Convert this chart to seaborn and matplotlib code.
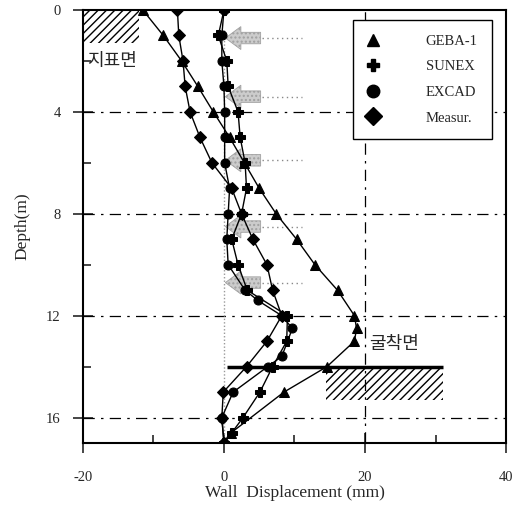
import numpy as np
import pandas as pd
import seaborn as sns
import matplotlib
matplotlib.use("Agg")
import matplotlib.pyplot as plt
from matplotlib.patches import Rectangle, FancyArrow
from matplotlib.lines import Line2D

# Wall displacement profiles (mm) against depth (m)
geba_depth = [0, 1, 2, 3, 4, 5, 6, 7, 8, 9, 10, 11, 12, 12.5, 13, 14, 15, 16.6, 17]
geba_disp = [-11.5, -8.6, -6.0, -3.7, -1.5, 0.8, 2.9, 5.0, 7.4, 10.3, 12.9, 16.1, 18.5, 18.8, 18.5, 14.6, 8.5, 1.0, 0.0]

sunex_depth = [0, 1, 2, 3, 4, 5, 6, 7, 8, 9, 10, 11, 12, 13, 14, 15, 16, 16.6, 17]
sunex_disp = [0.0, -0.8, 0.4, 0.6, 2.0, 2.3, 3.0, 3.2, 2.5, 1.1, 2.0, 3.3, 9.0, 8.9, 6.9, 5.1, 2.7, 1.1, 0.0]

excad_depth = [0, 1, 2, 3, 4, 5, 6, 7, 8, 9, 10, 11, 11.4, 12, 12.5, 13.6, 14, 15, 16, 17]
excad_disp = [0.0, -0.3, -0.3, 0.0, 0.1, 0.1, 0.1, 0.8, 0.6, 0.4, 0.6, 3.0, 4.8, 8.2, 9.7, 8.2, 6.2, 1.3, -0.3, 0.0]

meas_depth = [0, 1, 2, 3, 4, 5, 6, 7, 8, 9, 10, 11, 12, 13, 14, 15, 16, 17]
meas_disp = [-6.6, -6.4, -5.8, -5.5, -4.8, -3.4, -1.7, 1.1, 2.5, 4.1, 6.1, 6.9, 8.2, 6.1, 3.2, -0.1, -0.3, 0.0]

series_names = ["GEBA-1", "SUNEX", "EXCAD", "Measur."]
series_markers = ["^", "P", "o", "D"]
series_sizes = [6.5, 7, 6.5, 6.3]

# Inclinometer movement arrows (depths, m)
arrow_depths = [1.1, 3.4, 5.9, 8.5, 10.7]

x_ticks = [-20, 0, 20, 40]
y_ticks = [0, 4, 8, 12, 16]

sns.set_theme(style="white")
plt.rcParams["font.family"] = ["Liberation Serif", "Noto Sans CJK KR"]
plt.rcParams["axes.unicode_minus"] = False

fig = plt.figure(figsize=(5.18, 5.14), dpi=100)
ax = fig.add_axes([0.160, 0.138, 0.817, 0.8425])

frames = []
for name, d, x in [("GEBA-1", geba_depth, geba_disp), ("SUNEX", sunex_depth, sunex_disp),
                   ("EXCAD", excad_depth, excad_disp), ("Measur.", meas_depth, meas_disp)]:
    frames.append(pd.DataFrame({"disp": x, "depth": d, "model": name}))
df = pd.concat(frames, ignore_index=True)

# reference lines
dashdot = (0, (9, 5, 2, 5))
for yv in [4, 8, 12, 16]:
    ax.axhline(yv, color="black", lw=0.9, ls=dashdot, zorder=1)
ax.axvline(20, color="black", lw=0.9, ls=dashdot, zorder=1)
ax.plot([0, 0], [0.8, 17], color="#999999", lw=1.0, ls=(0, (1, 1.5)), zorder=1)

# gray stippled arrows with dotted tails
for yd in arrow_depths:
    ax.add_patch(FancyArrow(5.2, yd, -5.0, 0, width=0.45, head_width=0.9,
                            head_length=2.2, length_includes_head=True,
                            facecolor="#cccccc", edgecolor="#a0a0a0", lw=0.6,
                            hatch="....", zorder=2))
    ax.plot([5.4, 11], [yd, yd], color="#888888", lw=1.0, ls=(0, (1, 2.5)), zorder=2)

for name, mk, ms in zip(series_names, series_markers, series_sizes):
    sub = df[df["model"] == name]
    sns.lineplot(data=sub, x="disp", y="depth", sort=False, estimator=None,
                 ax=ax, color="black", lw=1.0, marker=mk, markersize=ms,
                 markeredgecolor="black", markerfacecolor="black", zorder=4,
                 legend=False)

# ground surface and excavation level
ax.add_patch(Rectangle((-20, 0), 8, 1.3, fill=False, hatch="////", lw=0,
                       edgecolor="black", zorder=3))
ax.text(-19.4, 2.0, "지표면", fontsize=13, va="center", ha="left",
        family=["Noto Sans CJK KR"])
ax.plot([0.5, 31], [14, 14], color="black", lw=2.5, zorder=3, solid_capstyle="butt")
ax.add_patch(Rectangle((14.4, 14.05), 16.6, 1.25, fill=False, hatch="////", lw=0,
                       edgecolor="black", zorder=3))
ax.text(20.6, 13.1, "굴착면", fontsize=13, va="center", ha="left",
        family=["Noto Sans CJK KR"])

ax.set_xlim(-20, 40)
ax.set_ylim(17, 0)
ax.set_xticks(x_ticks)
ax.set_xticks([-10, 10, 30], minor=True)
ax.set_yticks(y_ticks)
ax.set_yticks([2, 6, 10, 14], minor=True)
ax.tick_params(which="major", direction="inout", length=14, width=1.2, labelsize=10.5,
               bottom=True, left=True)
ax.tick_params(which="minor", direction="in", length=6, width=1.2, bottom=True, left=True)
ax.tick_params(axis="x", which="major", pad=13)
ax.tick_params(axis="y", which="major", pad=9)
for s in ax.spines.values():
    s.set_color("black")
    s.set_linewidth(1.5)

ax.set_xlabel("Wall  Displacement (mm)", fontsize=12.5, labelpad=1)
ax.set_ylabel("Depth(m)", fontsize=12.5, labelpad=11)

handles = [Line2D([], [], ls="none", marker=m, color="black", markersize=9)
           for m in series_markers]
leg = ax.legend(handles, series_names, loc="upper right", bbox_to_anchor=(0.967, 0.977),
                borderaxespad=0, frameon=True, fancybox=False, labelspacing=0.85,
                handletextpad=3.2, borderpad=1.0, fontsize=10.5, handlelength=0.8)
leg.get_frame().set_edgecolor("black")
leg.get_frame().set_linewidth(1.0)
leg.get_frame().set_alpha(1)

fig.savefig("out.png", dpi=100)
